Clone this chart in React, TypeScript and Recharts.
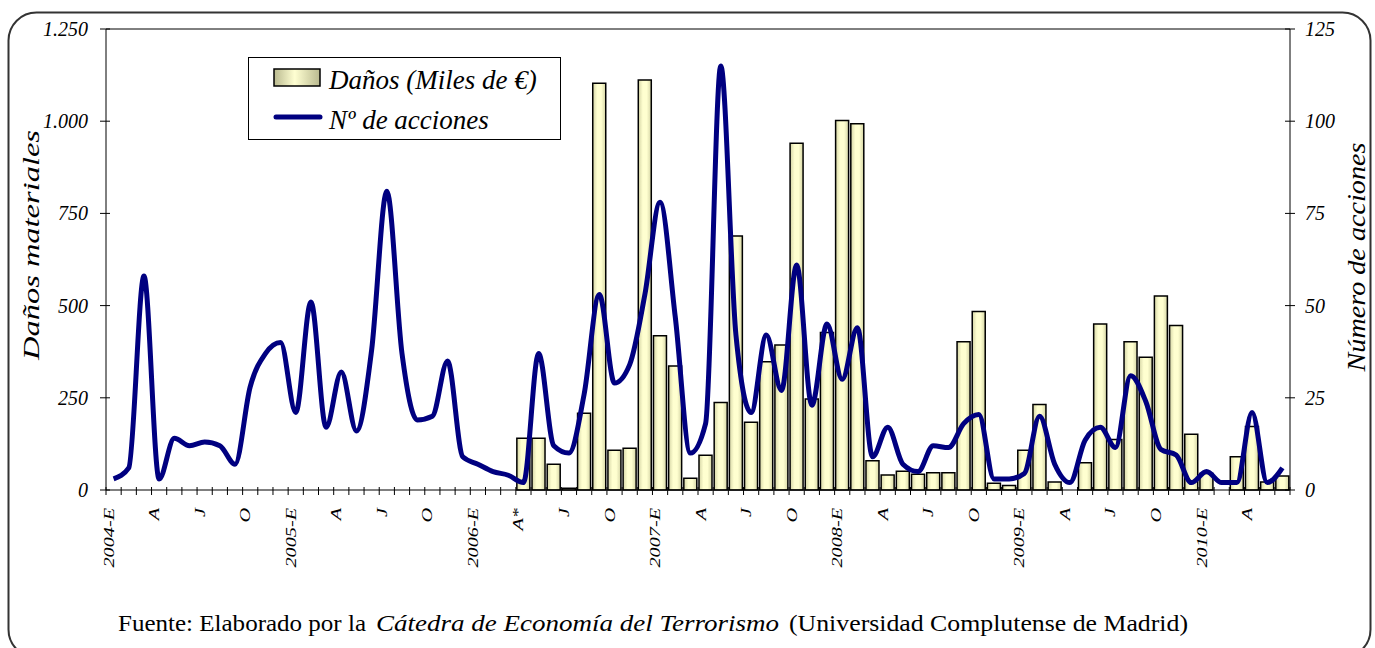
import React from "react";
import { Bar, ComposedChart, Legend, Line, ReferenceLine, XAxis, YAxis } from "recharts";

// Meses: enero 2004 – junio 2010
const years = [2004, 2005, 2006, 2007, 2008, 2009, 2010];
const quarterLetters = ["E", "A", "J", "O"];
const monthCount = 78;

// Nº de acciones (eje derecho)
const acciones = [
  3, 6, 58, 3, 14, 12, 13, 12, 7, 28, 37, 40,
  21, 51, 17, 32, 16, 38, 81, 37, 19, 20, 35, 9,
  7, 5, 4, 2, 37, 12, 10, 26, 53, 29, 34, 53,
  78, 47, 10, 18, 115, 42, 21, 42, 27, 61, 23, 45,
  30, 44, 9, 17, 7, 5, 12, 11.5, 18, 20.5, 3, 3,
  4.5, 20, 7, 2, 13.5, 17, 11.5, 31, 24, 11, 9.5, 2,
  5, 2, 2, 21, 2, 6,
];

// Daños materiales, miles de € (eje izquierdo); sin datos antes de abril 2006
const danos: (number | null)[] = [
  null, null, null, null, null, null, null, null, null, null, null, null,
  null, null, null, null, null, null, null, null, null, null, null, null,
  null, null, null, 140, 140, 70, 5, 208, 1103, 108, 113, 1112,
  418, 336, 32, 94, 237, 689, 184, 348, 393, 940, 247, 427,
  1002, 993, 79, 41, 51, 43, 47, 47, 402, 484, 18, 12,
  108, 232, 22, null, 74, 450, 137, 402, 360, 526, 446, 151,
  45, null, 90, 172, 22, 38,
];

const danosTicks = [0, 250, 500, 750, 1000, 1250];
const accionesTicks = [0, 25, 50, 75, 100, 125];

const monthLabels: string[] = [];
const monthKeys: string[] = [];
for (let i = 0; i < monthCount; i++) {
  const year = years[Math.floor(i / 12)];
  const m = i % 12;
  let label = "";
  if (m === 0) label = `${year}-E`;
  else if (m % 3 === 0) label = quarterLetters[m / 3];
  if (year === 2006 && m === 3) label = "A*";
  monthLabels.push(label);
  monthKeys.push(`${year}-${String(m + 1).padStart(2, "0")}`);
}

const chartData = monthKeys.map((mes, i) => ({
  mes,
  danos: danos[i],
  acciones: acciones[i],
}));

const serif = "'Liberation Serif', 'Times New Roman', serif";
const halfBand = 1184 / monthCount / 2;

const formatMiles = (v: number) => String(v).replace(/\B(?=(\d{3})+(?!\d))/g, ".");

const MonthTick = (props: any) => {
  const { x, y, payload } = props;
  const index = payload?.index ?? props.index;
  const half = typeof payload?.offset === "number" && payload.offset > 0 ? payload.offset : halfBand;
  const label = monthLabels[index];
  return (
    <g>
      <line x1={x - half} x2={x - half} y1={y - 3} y2={y + 5} stroke="#000" />
      {index === monthCount - 1 && (
        <line x1={x + half} x2={x + half} y1={y - 3} y2={y + 5} stroke="#000" />
      )}
      {label && (
        <text
          transform={`translate(${x},${y + 18}) rotate(-90) scale(1.35,1)`}
          textAnchor="end"
          fontFamily={serif}
          fontStyle="italic"
          fontSize={15}
          fill="#000"
        >
          {label}
        </text>
      )}
    </g>
  );
};

const LeftTick = ({ x, y, payload }: any) => (
  <g>
    <line x1={x + 12} x2={x + 22} y1={y} y2={y} stroke="#000" />
    <text x={x} y={y} dy="0.35em" textAnchor="end" fontFamily={serif} fontStyle="italic" fontSize={20} fill="#000">
      {formatMiles(payload.value)}
    </text>
  </g>
);

const RightTick = ({ x, y, payload }: any) => (
  <g>
    <line x1={x - 20} x2={x - 10} y1={y} y2={y} stroke="#000" />
    <text x={x} y={y} dy="0.35em" textAnchor="start" fontFamily={serif} fontStyle="italic" fontSize={20} fill="#000">
      {payload.value}
    </text>
  </g>
);

const LegendBox = () => (
  <svg width={313} height={83} style={{ display: "block" }}>
    <defs>
      <linearGradient id="legendBarFill" x1="0" y1="0" x2="1" y2="0">
        <stop offset="0%" stopColor="#b9b98f" />
        <stop offset="45%" stopColor="#ffffd2" />
        <stop offset="100%" stopColor="#b9b98f" />
      </linearGradient>
    </defs>
    <rect x={0.5} y={0.5} width={312} height={82} fill="#fff" stroke="#000" />
    <rect x={26} y={12} width={46} height={17} fill="url(#legendBarFill)" stroke="#000" strokeWidth={1.5} />
    <line x1={28} x2={72} y1={60} y2={60} stroke="#000080" strokeWidth={5} strokeLinecap="round" />
    <text x={81} y={32} fontFamily={serif} fontStyle="italic" fontSize={27} fill="#000">
      Daños (Miles de €)
    </text>
    <text x={81} y={72} fontFamily={serif} fontStyle="italic" fontSize={27} fill="#000">
      Nº de acciones
    </text>
  </svg>
);

export default function App() {
  return (
    <div style={{ position: "absolute", left: 0, top: 0, width: 1375, height: 648, background: "#fff", fontFamily: serif }}>
      <ComposedChart
        width={1375}
        height={648}
        data={chartData}
        margin={{ top: 29, right: 25, bottom: 78, left: 46 }}
      >
        <defs>
          <linearGradient id="barFill" x1="0" y1="0" x2="1" y2="0">
            <stop offset="0%" stopColor="#d5d5a6" />
            <stop offset="35%" stopColor="#ffffd0" />
            <stop offset="65%" stopColor="#ffffd0" />
            <stop offset="100%" stopColor="#d5d5a6" />
          </linearGradient>
        </defs>
        <XAxis
          dataKey="mes"
          interval={0}
          tickLine={false}
          tickSize={0}
          tickMargin={0}
          height={80}
          axisLine={{ stroke: "#000" }}
          tick={<MonthTick />}
        />
        <YAxis
          yAxisId="left"
          domain={[0, 1250]}
          ticks={danosTicks}
          width={60}
          tickLine={false}
          tickSize={0}
          tickMargin={18}
          axisLine={{ stroke: "#000" }}
          tick={<LeftTick />}
          label={{
            content: () => (
              <text
                x={39}
                y={245}
                transform="rotate(-90 39 245)"
                textAnchor="middle"
                textLength={230}
                lengthAdjust="spacingAndGlyphs"
                fontFamily={serif}
                fontStyle="italic"
                fontSize={24}
                fill="#000"
              >
                Daños materiales
              </text>
            ),
          }}
        />
        <YAxis
          yAxisId="right"
          orientation="right"
          domain={[0, 125]}
          ticks={accionesTicks}
          width={60}
          tickLine={false}
          tickSize={0}
          tickMargin={15}
          axisLine={{ stroke: "#000" }}
          tick={<RightTick />}
          label={{
            content: () => (
              <text
                x={1365}
                y={257}
                transform="rotate(-90 1365 257)"
                textAnchor="middle"
                textLength={229}
                lengthAdjust="spacingAndGlyphs"
                fontFamily={serif}
                fontStyle="italic"
                fontSize={25}
                fill="#000"
              >
                Número de acciones
              </text>
            ),
          }}
        />
        <ReferenceLine yAxisId="left" y={1250} stroke="#000" strokeWidth={1} />
        <Legend
          layout="horizontal"
          verticalAlign="middle"
          align="center"
          content={() => <LegendBox />}
          wrapperStyle={{ position: "absolute", left: 248, top: 57, width: 313, height: 83 }}
        />
        <Bar
          yAxisId="left"
          dataKey="danos"
          name="Daños (Miles de €)"
          barSize={13}
          fill="url(#barFill)"
          stroke="#000"
          strokeWidth={1.5}
          isAnimationActive={false}
        />
        <Line
          yAxisId="right"
          dataKey="acciones"
          name="Nº de acciones"
          type="monotone"
          stroke="#000080"
          strokeWidth={5}
          strokeLinejoin="round"
          dot={false}
          activeDot={false}
          isAnimationActive={false}
        />
      </ComposedChart>
      <svg
        width={1375}
        height={648}
        style={{ position: "absolute", left: 0, top: 0, pointerEvents: "none" }}
      >
        <rect x={8.5} y={12.5} width={1362} height={645} rx={28} fill="none" stroke="#333" strokeWidth={2} />
        <g fontFamily={serif} fontSize={23} fill="#000">
          <text x={118} y={631} textLength={248} lengthAdjust="spacingAndGlyphs">
            Fuente: Elaborado por la
          </text>
          <text x={376} y={631} fontStyle="italic" textLength={403} lengthAdjust="spacingAndGlyphs">
            Cátedra de Economía del Terrorismo
          </text>
          <text x={789} y={631} textLength={399} lengthAdjust="spacingAndGlyphs">
            (Universidad Complutense de Madrid)
          </text>
        </g>
      </svg>
    </div>
  );
}
